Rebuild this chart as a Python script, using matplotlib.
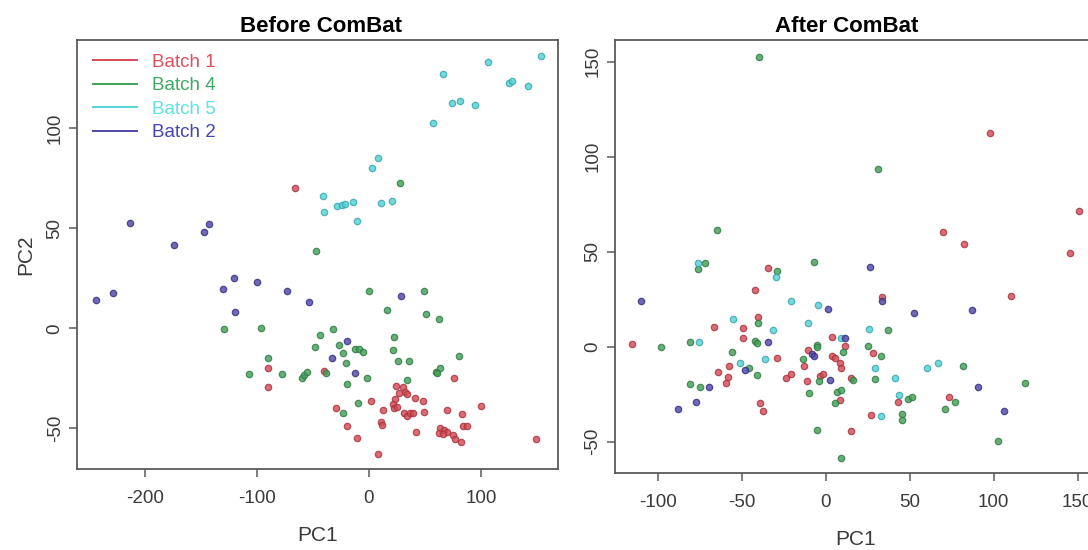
import matplotlib
matplotlib.use("Agg")
import matplotlib.pyplot as plt
from matplotlib.lines import Line2D
import numpy as np

plt.rcParams['font.family'] = ['Liberation Sans', 'DejaVu Sans']

# ---------------- data ----------------
batch_labels = ["Batch 1", "Batch 4", "Batch 5", "Batch 2"]
point_colors = ["#d44a55", "#44a05a", "#55d2d6", "#5048aa"]
edge_colors = ["#a8333d", "#2f7a43", "#35a6ab", "#35307e"]
legend_text_colors = ["#e0505c", "#3fa862", "#5fe2e2", "#4444b8"]

before_x_ticks = [-200, -100, 0, 100]
before_y_ticks = [-50, 0, 50, 100]
after_x_ticks = [-100, -50, 0, 50, 100, 150]
after_y_ticks = [-50, 0, 50, 100, 150]

before_batch1 = [(-65.8, 70.3), (-89.9, -20.0), (-89.9, -29.3), (-40.2, -21.2), (76.2, -25.0),
                 (24.1, -28.7), (30.6, -29.2), (32.1, -31.7), (27.1, -32.5), (34.2, -33.0),
                 (41.1, -34.7), (48.5, -36.3), (23.5, -35.5), (21.7, -38.0), (22.6, -40.0),
                 (24.7, -39.2), (12.8, -40.9), (1.5, -36.3), (-29.7, -40.0), (-19.4, -48.9),
                 (-10.4, -54.7), (7.8, -63.0), (10.7, -46.7), (11.3, -48.3), (31.3, -42.5),
                 (33.7, -43.8), (36.6, -42.2), (39.6, -42.5), (49.1, -41.7), (42.0, -52.0),
                 (69.9, -40.9), (82.8, -42.9), (100.0, -38.7), (63.4, -50.0), (67.0, -50.9),
                 (69.9, -51.7), (62.8, -52.5), (66.3, -52.9), (75.3, -53.4), (76.8, -55.4),
                 (82.1, -56.7), (84.2, -48.7), (87.2, -48.7), (148.8, -55.5)]
before_batch4 = [(27.7, 72.8), (-47.0, 38.5), (-129.2, -0.5), (-96.4, 0.3), (-89.9, -14.7),
                 (-107.1, -22.8), (-77.4, -22.8), (-60.1, -25.0), (-57.8, -23.4), (-55.6, -21.7),
                 (-48.2, -9.2), (-43.6, -3.3), (0.0, 18.7), (49.4, 18.7), (16.4, 9.2),
                 (50.9, 7.0), (62.8, 4.8), (-32.4, -0.5), (-26.8, -8.3), (-22.9, -12.5),
                 (-12.5, -10.5), (-8.7, -10.2), (-5.6, -11.8), (-20.8, -17.5), (22.3, -4.2),
                 (21.7, -10.8), (26.2, -16.3), (36.0, -16.3), (80.6, -14.0), (59.8, -21.7),
                 (63.4, -20.0), (61.0, -22.5), (-38.4, -22.2), (-2.1, -25.0), (-19.9, -28.0),
                 (33.7, -25.8), (-9.6, -37.5), (-23.5, -42.5)]
before_batch5 = [(153.3, 136.1), (106.0, 133.2), (65.8, 127.0), (124.7, 122.8), (127.5, 123.5),
                 (142.0, 121.2), (74.1, 112.5), (81.3, 113.5), (94.4, 111.8), (57.4, 102.8),
                 (7.8, 85.0), (3.0, 80.3), (-41.3, 66.3), (-39.9, 58.3), (-28.8, 61.2),
                 (-24.4, 61.8), (-21.0, 62.3), (-14.0, 63.3), (-10.4, 53.8), (10.7, 62.8),
                 (20.3, 63.5)]
before_batch2 = [(-213.4, 52.5), (-143.1, 52.0), (-147.3, 48.1), (-173.8, 41.6), (-244.0, 14.2),
                 (-228.3, 17.5), (-130.0, 19.8), (-120.2, 25.0), (-99.7, 23.0), (-72.9, 18.7),
                 (-53.9, 13.0), (-119.6, 8.3), (28.6, 16.2), (-19.4, -6.3), (-32.8, -15.0),
                 (-12.5, -22.5)]

after_batch1 = [(98.0, 112.3), (151.0, 71.6), (70.0, 60.2), (82.3, 53.9), (145.6, 49.5),
                (-34.2, 41.3), (-42.1, 29.8), (-40.5, 15.8), (-66.5, 10.5), (-49.0, 9.7),
                (-49.0, 4.4), (-115.1, 1.3), (-57.4, -10.2), (-28.8, -6.1), (-63.9, -13.2),
                (-58.0, -15.8), (-59.5, -18.9), (-39.1, -29.8), (-37.1, -33.7), (-23.6, -16.6),
                (-20.8, -14.4), (-12.9, -10.2), (-10.4, -1.7), (-11.0, -18.1), (-3.4, -15.4),
                (-1.4, -14.5), (3.6, 5.3), (3.9, -4.9), (5.5, -6.1), (33.7, 26.3),
                (110.1, 26.7), (11.7, 0.4), (8.3, -8.7), (8.9, -11.4), (28.2, -3.5),
                (15.2, -16.6), (8.3, -28.1), (43.0, -28.9), (26.8, -35.9), (73.2, -26.6),
                (14.9, -44.4)]
after_batch4 = [(-39.7, 152.6), (-64.9, 61.4), (31.1, 93.4), (-71.8, 44.2), (-75.8, 40.7),
                (-7.0, 44.4), (-29.2, 40.0), (-40.5, 12.6), (-42.1, 3.0), (-41.1, 1.8),
                (-97.9, 0.0), (-80.8, 2.6), (-56.0, -3.0), (-45.6, -11.0), (-41.1, -15.1),
                (-80.8, -19.5), (-74.8, -21.1), (-13.3, -6.6), (-5.0, 0.9), (-5.0, -0.3),
                (-9.8, -24.5), (-3.8, -18.1), (-5.4, -43.8), (6.5, -23.7), (5.5, -29.8),
                (8.9, -58.7), (37.1, 8.8), (10.3, -2.6), (25.2, 0.4), (32.7, -4.9),
                (29.2, -17.2), (16.3, -17.5), (9.3, -22.8), (81.7, -10.2), (118.8, -18.9),
                (49.0, -27.7), (51.4, -26.3), (45.6, -35.4), (45.6, -38.6), (76.8, -28.9),
                (70.8, -32.8), (102.6, -49.6)]
after_batch5 = [(-75.8, 44.2), (-29.6, 36.8), (-20.7, 24.2), (-4.8, 21.8), (-55.0, 14.4),
                (-31.2, 8.8), (-10.7, 12.6), (-75.2, 2.6), (-51.0, -8.8), (-36.1, -6.6),
                (25.6, 9.2), (9.3, 4.4), (29.2, -11.4), (41.1, -16.6), (60.3, -11.0),
                (66.8, -8.7), (44.0, -25.4), (33.1, -36.5)]
after_batch2 = [(-110.1, 24.0), (1.5, 19.7), (-34.2, 2.6), (-48.0, -12.3), (-69.3, -21.1),
                (-77.4, -29.1), (-87.7, -32.8), (-8.3, -3.8), (-7.0, -4.9), (2.6, -17.5),
                (26.4, 41.8), (33.7, 24.0), (52.6, 17.6), (87.1, 19.3), (11.7, 4.4),
                (90.7, -21.4), (106.1, -33.7)]

before_sets = [before_batch1, before_batch4, before_batch5, before_batch2]
after_sets = [after_batch1, after_batch4, after_batch5, after_batch2]

# ---------------- figure ----------------
W, H = 1088, 550
fig = plt.figure(figsize=(W / 100, H / 100), dpi=100)


def box(l, t, r, b):
    return [l / W, 1 - b / H, (r - l) / W, (b - t) / H]


ax1 = fig.add_axes(box(77.3, 40, 558.3, 469.3))
ax2 = fig.add_axes(box(615, 40, 1097, 473.3))

spine_col = "#5a5a5a"
text_col = "#3a3a3a"


def style(ax, xticks, yticks, xlim, ylim, title, title_x):
    ax.set_xlim(*xlim)
    ax.set_ylim(*ylim)
    ax.set_xticks(xticks)
    ax.set_yticks(yticks)
    ax.set_xticklabels([str(t) for t in xticks])
    ax.set_yticklabels([str(t) for t in yticks])
    for s in ax.spines.values():
        s.set_color(spine_col)
        s.set_linewidth(1.3)
    ax.tick_params(axis='both', direction='out', length=5.8, width=1.1,
                   color=spine_col, labelsize=13.5, labelcolor=text_col)
    ax.tick_params(axis='x', pad=9)
    ax.tick_params(axis='y', pad=4, labelrotation=90)
    for lbl in ax.get_yticklabels():
        lbl.set_va('center')
    ax.set_xlabel("PC1", fontsize=15, color=text_col, labelpad=14)
    ax.set_title(title, fontsize=16, fontweight='bold', pad=6, x=title_x)


def draw(ax, sets):
    for pts, fc, ec in zip(sets, point_colors, edge_colors):
        arr = np.array(pts)
        ax.scatter(arr[:, 0], arr[:, 1], s=21, c=fc, edgecolors=ec,
                   linewidths=0.9, alpha=0.82, zorder=3)


draw(ax1, before_sets)
draw(ax2, after_sets)

style(ax1, before_x_ticks, before_y_ticks, (-260.4, 169.0), (-70.5, 144.2), "Before ComBat", 0.507)
style(ax2, after_x_ticks, after_y_ticks, (-125.4, 161.6), (-66.6, 161.4), "After ComBat", 0.48)
ax1.set_ylabel("PC2", fontsize=15, color=text_col, labelpad=8)

handles = [Line2D([0], [0], color=c, lw=1.4) for c in point_colors]
leg = ax1.legend(handles, batch_labels, loc='upper left', bbox_to_anchor=(0.0326, 0.968),
                 frameon=False, fontsize=13.5, handlelength=2.35, handletextpad=0.8,
                 labelspacing=0.34, borderaxespad=0, borderpad=0,
                 labelcolor=legend_text_colors)

fig.savefig("out.png", dpi=100)
